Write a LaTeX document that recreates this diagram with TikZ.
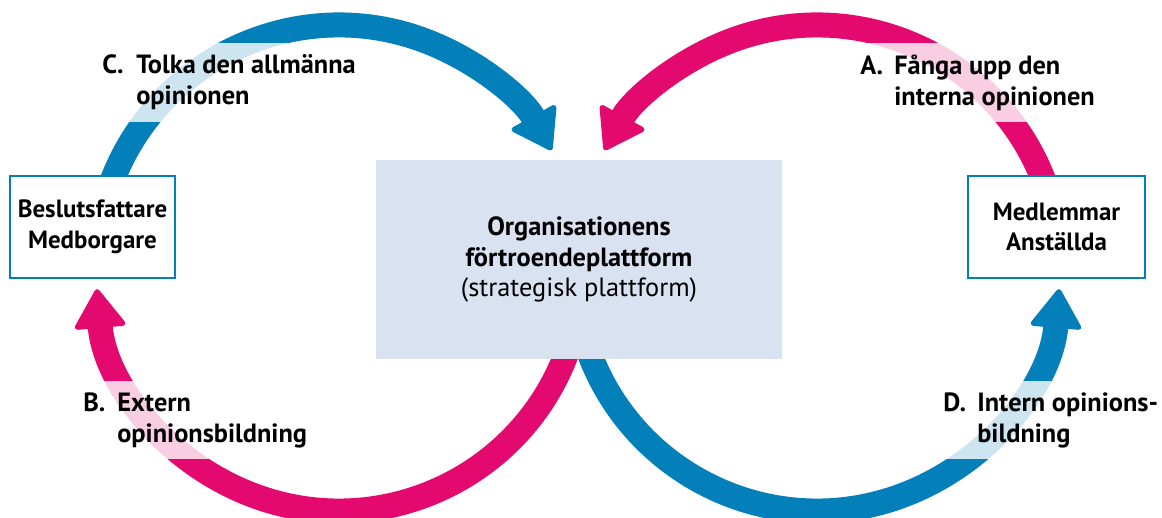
\documentclass[tikz,border=0pt]{standalone}
\usepackage{fontspec}
\setmainfont{PT Sans}
\usetikzlibrary{arrows.meta}

\definecolor{opblue}{RGB}{3,128,186}
\definecolor{oppink}{RGB}{228,9,110}
\definecolor{platfill}{RGB}{217,226,241}

\begin{document}
\begin{tikzpicture}[x=0.02cm, y=0.02cm,
  flow/.style={line width=0.5cm, -{Triangle[length=0.82cm, width=1.08cm, line width=3pt, round]}},
  group/.style={rectangle, draw=opblue, line width=1.2pt, fill=white, minimum height=2.04cm, align=center, font=\fontsize{14.2}{17.4}\selectfont\bfseries},
  phase/.style={anchor=west, fill=white, fill opacity=0.8, text opacity=1, inner xsep=0pt, minimum height=1.58cm, align=left, font=\fontsize{15}{17.6}\selectfont\bfseries}]
\useasboundingbox (0,0) rectangle (1162,517);

\coordinate (cl) at (339,249);
\coordinate (cr) at (817,249);

% the two loops
\draw[flow, opblue] (cl) ++(160:243) arc[start angle=160, end angle=29, radius=243];
\draw[flow, oppink] (cl) ++(-18:243) arc[start angle=-18, end angle=-175, radius=243];
\draw[flow, oppink] (cr) ++(20:243) arc[start angle=20, end angle=151, radius=243];
\draw[flow, opblue] (cr) ++(198:243) arc[start angle=198, end angle=355, radius=243];

\node[rectangle, fill=platfill, minimum width=8.12cm, minimum height=3.98cm, align=center, font=\fontsize{15}{17.2}\selectfont] (plat) at (579,257.5)
  {\textbf{Organisationens}\\ \textbf{förtroendeplattform}\\ (strategisk plattform)};
\node[group, minimum width=3.3cm] (besl) at (92.5,290) {Beslutsfattare\\ Medborgare};
\node[group, minimum width=3.54cm] (medl) at (1056.5,290) {Medlemmar\\ Anställda};

\node[phase] (stepc) at (102,434.5) {\makebox[0.68cm][l]{C.}Tolka den allmänna\\ \hspace*{0.68cm}opinionen};
\node[phase] (stepa) at (860,434.5) {\makebox[0.68cm][l]{A.}Fånga upp den\\ \hspace*{0.68cm}interna opinionen};
\node[phase] (stepb) at (83,97) {\makebox[0.68cm][l]{B.}Extern\\ \hspace*{0.68cm}opinionsbildning};
\node[phase] (stepd) at (943,97) {\makebox[0.68cm][l]{D.}Intern opinions-\\ \hspace*{0.68cm}bildning};

\end{tikzpicture}
\end{document}
